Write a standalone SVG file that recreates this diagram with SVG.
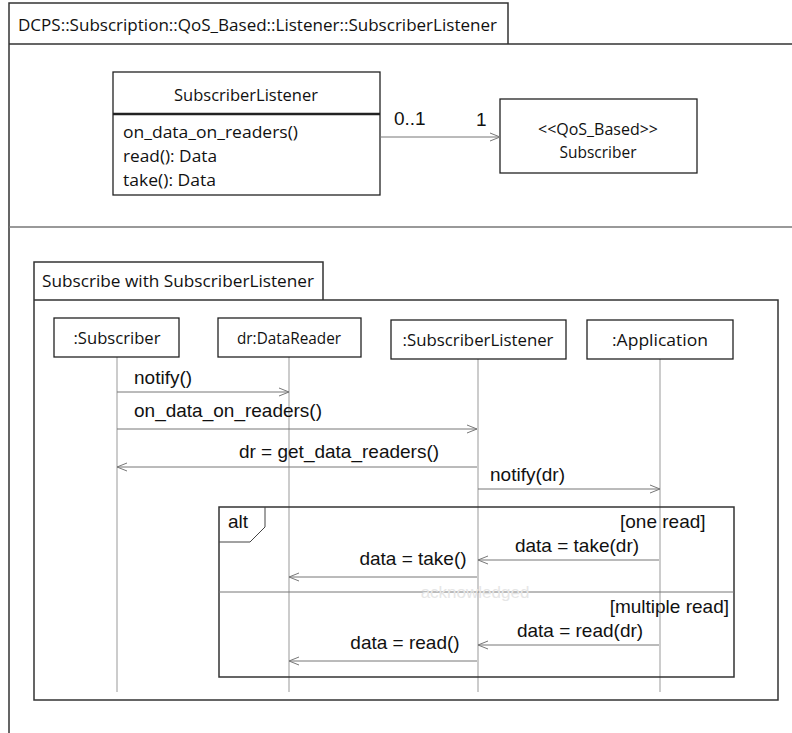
<svg xmlns="http://www.w3.org/2000/svg" width="792" height="733" viewBox="0 0 792 733">
<style>
.frame{fill:none;stroke:#333;stroke-width:1.5}
.box{fill:#fff;stroke:#222;stroke-width:1.3}
.ll{stroke:#999;stroke-width:1;fill:none}
.msg{stroke:#777;stroke-width:1;fill:none}
.t{font-family:"Liberation Sans",Arial,sans-serif;fill:#111;font-size:19px}
.c{font-family:"Open Sans","Liberation Sans",sans-serif;fill:#111}
</style>
<defs>
<marker id="open" viewBox="0 0 10 10" refX="10" refY="5" markerWidth="10" markerHeight="10" markerUnits="userSpaceOnUse" orient="auto">
<path d="M0,1 L10,5 L0,9" fill="none" stroke="#777" stroke-width="1"/>
</marker>
</defs>
<rect width="792" height="733" fill="#fff"/>

<g id="outer-frame">
<path class="frame" d="M9,733 V3 H508 V44 M9,44 H792"/>
<line x1="9" y1="227" x2="792" y2="227" stroke="#777" stroke-width="1.3"/>
<text class="c" x="18" y="31" font-size="17" textLength="479" lengthAdjust="spacingAndGlyphs">DCPS::Subscription::QoS_Based::Listener::SubscriberListener</text>
</g>

<g id="class-SubscriberListener">
<rect class="box" x="113" y="72" width="267" height="123"/>
<line x1="113" y1="114" x2="380" y2="114" stroke="#222" stroke-width="2.5"/>
<text class="c" x="246" y="101" font-size="17" text-anchor="middle" textLength="144" lengthAdjust="spacingAndGlyphs">SubscriberListener</text>
<text class="c" x="123" y="138" font-size="17" textLength="175" lengthAdjust="spacingAndGlyphs">on_data_on_readers()</text>
<text class="c" x="123" y="162" font-size="17" textLength="94" lengthAdjust="spacingAndGlyphs">read(): Data</text>
<text class="c" x="123" y="186" font-size="17" textLength="93" lengthAdjust="spacingAndGlyphs">take(): Data</text>
</g>

<g id="class-Subscriber">
<rect class="box" x="500" y="99" width="197" height="74"/>
<text class="c" x="598" y="135" font-size="16" text-anchor="middle" textLength="120" lengthAdjust="spacingAndGlyphs">&lt;&lt;QoS_Based&gt;&gt;</text>
<text class="c" x="598" y="158" font-size="17" text-anchor="middle" textLength="77" lengthAdjust="spacingAndGlyphs">Subscriber</text>
</g>

<g id="association">
<line class="msg" x1="380" y1="137" x2="500" y2="137" marker-end="url(#open)"/>
<text class="t" x="394" y="125">0..1</text>
<text class="t" x="476" y="126">1</text>
</g>

<g id="sequence-frame">
<path class="frame" d="M34,300 V262 H323 V300 M34,300 H778 V700 H34 Z"/>
<text class="c" x="42" y="287" font-size="17" textLength="272" lengthAdjust="spacingAndGlyphs">Subscribe with SubscriberListener</text>
</g>

<g id="lifeline-Subscriber">
<line class="ll" x1="117" y1="357" x2="117" y2="692"/>
<rect class="box" x="54" y="318" width="125" height="39"/>
<text class="c" x="117" y="344" font-size="17" text-anchor="middle" textLength="87" lengthAdjust="spacingAndGlyphs">:Subscriber</text>
</g>
<g id="lifeline-DataReader">
<line class="ll" x1="289" y1="357" x2="289" y2="692"/>
<rect class="box" x="218" y="318" width="143" height="39"/>
<text class="c" x="289" y="344" font-size="17" text-anchor="middle" textLength="104" lengthAdjust="spacingAndGlyphs">dr:DataReader</text>
</g>
<g id="lifeline-SubscriberListener">
<line class="ll" x1="478" y1="359" x2="478" y2="692"/>
<rect class="box" x="391" y="320" width="175" height="39"/>
<text class="c" x="478" y="346" font-size="17" text-anchor="middle" textLength="151" lengthAdjust="spacingAndGlyphs">:SubscriberListener</text>
</g>
<g id="lifeline-Application">
<line class="ll" x1="660" y1="359" x2="660" y2="692"/>
<rect class="box" x="587" y="320" width="146" height="39"/>
<text class="c" x="660" y="346" font-size="17" text-anchor="middle" textLength="96" lengthAdjust="spacingAndGlyphs">:Application</text>
</g>

<g id="alt-fragment">
<path class="frame" d="M219,507 H734 V677 H219 Z"/>
<path d="M219,542 H250 L265,527 V507" fill="none" stroke="#444" stroke-width="1"/>
<line x1="219" y1="592" x2="734" y2="592" stroke="#777" stroke-width="1"/>
<text class="t" x="228" y="528">alt</text>
<text class="t" x="620" y="528">[one read]</text>
<text class="t" x="729" y="613" text-anchor="end">[multiple read]</text>
<text x="475" y="598" font-family="Liberation Sans, Arial, sans-serif" font-size="17" text-anchor="middle" fill="#e6e6e6">acknowledged</text>
</g>

<g id="connectors">
<line class="msg" x1="117" y1="392" x2="289" y2="392" marker-end="url(#open)"/>
<text class="t" x="134" y="384">notify()</text>
<line class="msg" x1="117" y1="429" x2="477" y2="429" marker-end="url(#open)"/>
<text class="t" x="134" y="417">on_data_on_readers()</text>
<line class="msg" x1="477" y1="467" x2="117" y2="467" marker-end="url(#open)"/>
<text class="t" x="339" y="458" text-anchor="middle">dr = get_data_readers()</text>
<line class="msg" x1="478" y1="489" x2="660" y2="489" marker-end="url(#open)"/>
<text class="t" x="490" y="481">notify(dr)</text>
<line class="msg" x1="659" y1="560" x2="478" y2="560" marker-end="url(#open)"/>
<text class="t" x="577" y="552" text-anchor="middle">data = take(dr)</text>
<line class="msg" x1="477" y1="577" x2="289" y2="577" marker-end="url(#open)"/>
<text class="t" x="413" y="565" text-anchor="middle">data = take()</text>
<line class="msg" x1="659" y1="645" x2="478" y2="645" marker-end="url(#open)"/>
<text class="t" x="580" y="637" text-anchor="middle">data = read(dr)</text>
<line class="msg" x1="477" y1="661" x2="289" y2="661" marker-end="url(#open)"/>
<text class="t" x="405" y="649" text-anchor="middle">data = read()</text>
</g>
</svg>
